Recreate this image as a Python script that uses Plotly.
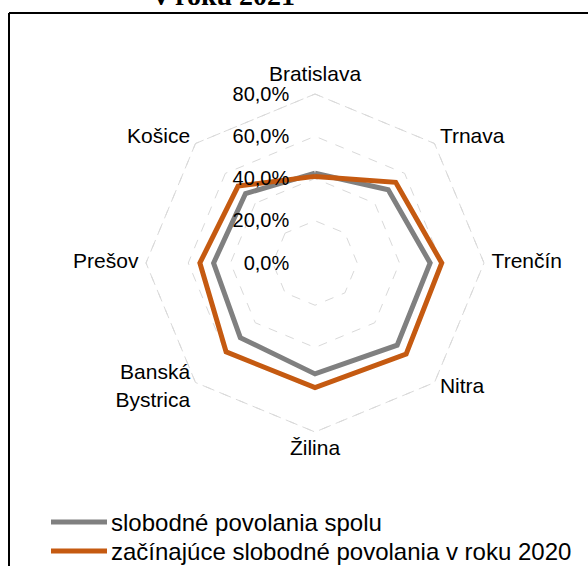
import plotly.graph_objects as go

categories = ["Bratislava", "Trnava", "Trenčín", "Nitra", "Žilina",
              "Banská<br>Bystrica", "Prešov", "Košice"]
series_names = ["slobodné povolania spolu",
                "začínajúce slobodné povolania v roku 2020"]
series_colors = ["#808080", "#C55A11"]
values_total = [42.5, 49.0, 54.5, 55.0, 52.5, 50.0, 48.0, 46.5]
values_new = [41.0, 54.0, 60.0, 61.0, 59.0, 59.5, 54.5, 51.5]
radial_ticks = [0, 20, 40, 60, 80]
radial_ticktext = [f"{v:.1f}%".replace(".", ",") + "\u00a0" * 4 for v in radial_ticks]
title_text = "v roku 2021"
label_positions = ["top center", "middle right", "middle right", "middle right",
                   "bottom center", "middle left", "middle left", "middle left"]

W, H = 588, 566
label_offset = 1.045  # labels sit slightly outside the outer ring
rmax = radial_ticks[-1] * label_offset + 0.2
cx, cy = 315, 263
R = 169 * rmax / 80

fig = go.Figure()
# outer (80 %) dashed gridline ring
fig.add_trace(go.Scatterpolar(
    r=[radial_ticks[-1]] * (len(categories) + 1),
    theta=categories + categories[:1],
    mode="lines", showlegend=False, hoverinfo="skip",
    line=dict(color="#d9d9d9", width=1, dash="dash"),
))
for name, vals, color in zip(series_names, [values_total, values_new], series_colors):
    fig.add_trace(go.Scatterpolar(
        r=vals + vals[:1], theta=categories + categories[:1],
        mode="lines", name=name, showlegend=False,
        line=dict(color=color, width=5),
    ))
# category labels placed next to the outer ring vertices
fig.add_trace(go.Scatterpolar(
    r=[radial_ticks[-1] * label_offset] * len(categories), theta=categories,
    mode="text", text=categories, textposition=label_positions,
    textfont=dict(size=21, color="black"),
    showlegend=False, hoverinfo="skip", cliponaxis=False,
))

# legend (drawn manually to match the long legend lines)
legend_x0, legend_x1, legend_tx = 51, 107, 109
legend_rows = [522, 551]
shapes = [
    dict(type="line", xref="paper", yref="paper",
         x0=9 / W, x1=9 / W, y0=0, y1=1 - 13 / H,
         line=dict(color="black", width=2)),
    dict(type="line", xref="paper", yref="paper",
         x0=9 / W, x1=1, y0=1 - 13 / H, y1=1 - 13 / H,
         line=dict(color="black", width=2)),
]
annotations = [
    dict(text="<b>" + title_text + "</b>", xref="paper", yref="paper",
         x=224 / W, y=1 - 13 / H, xanchor="center", yanchor="bottom",
         showarrow=False,
         font=dict(family="Liberation Serif, Times New Roman, serif",
                   size=28, color="black")),
]
for name, color, yrow in zip(series_names, series_colors, legend_rows):
    shapes.append(dict(type="line", xref="paper", yref="paper",
                       x0=legend_x0 / W, x1=legend_x1 / W,
                       y0=1 - yrow / H, y1=1 - yrow / H,
                       line=dict(color=color, width=5)))
    annotations.append(dict(text=name, xref="paper", yref="paper",
                            x=legend_tx / W, y=1 - yrow / H,
                            xanchor="left", yanchor="middle", showarrow=False,
                            font=dict(size=24, color="black")))

fig.update_layout(
    width=W, height=H,
    margin=dict(l=0, r=0, t=0, b=0),
    paper_bgcolor="white", plot_bgcolor="white",
    separators=", ",
    font=dict(family="Liberation Sans, Arial, sans-serif", size=20, color="black"),
    polar=dict(
        domain=dict(x=[(cx - R) / W, (cx + R) / W],
                    y=[1 - (cy + R) / H, 1 - (cy - R) / H]),
        gridshape="linear",
        bgcolor="white",
        radialaxis=dict(range=[0, rmax], tickvals=radial_ticks,
                        ticktext=radial_ticktext,
                        angle=90, tickangle=90, side="counterclockwise",
                        showline=False, ticks="",
                        gridcolor="#d9d9d9", griddash="dash", gridwidth=1,
                        tickfont=dict(size=20)),
        angularaxis=dict(rotation=90, direction="clockwise",
                         showgrid=False, showline=False, ticks="",
                         showticklabels=False),
    ),
    showlegend=False,
    shapes=shapes,
    annotations=annotations,
)

fig.write_html("out.html", config={"displayModeBar": False},
               post_script="document.body.style.margin='0';document.body.style.overflow='hidden';")
